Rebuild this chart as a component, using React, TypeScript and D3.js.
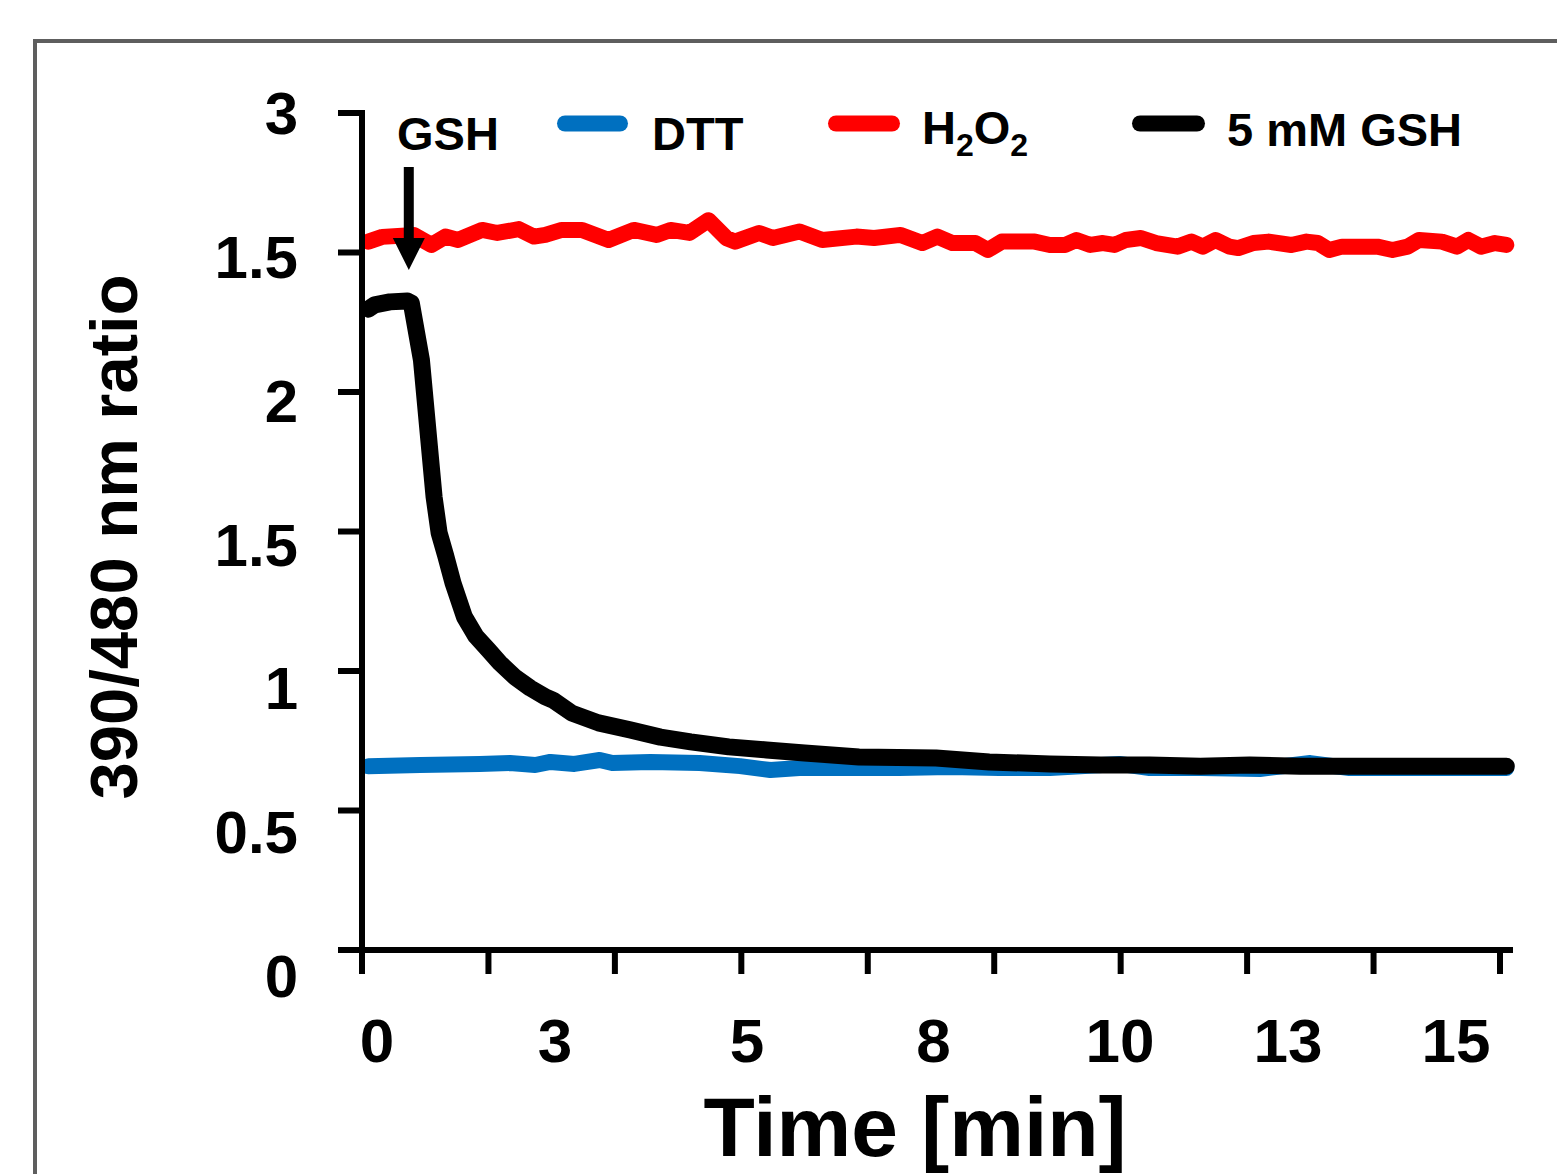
import React from "react";
import * as d3 from "d3";

// time in seconds, values are 390/480 nm ratio on plotted scale
const DTT_T = [5, 46, 93, 117, 137, 149, 168, 188, 198, 228, 267, 299, 323, 346, 386, 425, 465, 504, 544, 599, 623, 663, 710, 750, 781, 821, 860, 905];
const DTT_V = [0.659, 0.663, 0.667, 0.670, 0.663, 0.674, 0.667, 0.681, 0.670, 0.674, 0.670, 0.659, 0.645, 0.652, 0.652, 0.652, 0.656, 0.652, 0.652, 0.667, 0.652, 0.652, 0.649, 0.670, 0.652, 0.652, 0.652, 0.652];

const H2O2_T = [5, 16, 41, 55, 66, 76, 95, 107, 124, 136, 145, 158, 174, 195, 215, 233, 244, 259, 274, 288, 295, 314, 325, 346, 364, 391, 405, 426, 443, 455, 467, 485, 495, 506, 532, 544, 556, 565, 576, 586, 595, 604, 616, 628, 645, 656, 665, 675, 686, 693, 705, 717, 735, 747, 756, 765, 775, 803, 815, 827, 836, 854, 866, 875, 885, 896, 905];
const H2O2_V = [2.539, 2.556, 2.563, 2.527, 2.557, 2.545, 2.581, 2.570, 2.584, 2.557, 2.563, 2.581, 2.581, 2.545, 2.581, 2.563, 2.581, 2.570, 2.616, 2.552, 2.539, 2.570, 2.552, 2.575, 2.545, 2.557, 2.552, 2.563, 2.534, 2.557, 2.534, 2.534, 2.509, 2.539, 2.539, 2.527, 2.527, 2.545, 2.527, 2.534, 2.527, 2.545, 2.552, 2.534, 2.521, 2.539, 2.521, 2.545, 2.521, 2.516, 2.534, 2.539, 2.527, 2.539, 2.534, 2.509, 2.521, 2.521, 2.509, 2.521, 2.545, 2.539, 2.521, 2.545, 2.521, 2.534, 2.527];

const GSH_T = [5, 10, 22, 36, 39, 47, 57, 61, 66, 72, 81, 90, 100, 109, 121, 133, 145, 151, 166, 187, 212, 236, 260, 290, 320, 350, 393, 454, 496, 544, 584, 623, 663, 702, 742, 781, 821, 860, 905];
const GSH_V = [2.297, 2.312, 2.323, 2.326, 2.319, 2.115, 1.624, 1.495, 1.416, 1.315, 1.194, 1.125, 1.075, 1.029, 0.978, 0.939, 0.907, 0.896, 0.849, 0.814, 0.789, 0.763, 0.746, 0.728, 0.717, 0.706, 0.692, 0.688, 0.674, 0.667, 0.663, 0.663, 0.659, 0.663, 0.659, 0.659, 0.659, 0.659, 0.659];

const TIME_TICKS = [0, 100, 200, 300, 400, 500, 600, 700, 800, 900];
const Y_TICKS = [0, 0.5, 1, 1.5, 2, 2.5, 3];
const Y_TICK_LABELS = ["0", "0.5", "1", "1.5", "2", "1.5", "3"];
const X_LABEL_MINUTES = [0, 2.5, 5, 7.5, 10, 12.5, 15];
const X_TICK_LABELS = ["0", "3", "5", "8", "10", "13", "15"];
const ARROW_T = 37;

const SERIES = [
  { name: "DTT", t: DTT_T, v: DTT_V, color: "#0070C0", width: 16 },
  { name: "H2O2", t: H2O2_T, v: H2O2_V, color: "#FF0000", width: 16 },
  { name: "5 mM GSH", t: GSH_T, v: GSH_V, color: "#000000", width: 17 },
];

const FONT = "'Liberation Sans', Arial, Helvetica, sans-serif";

export default function App() {
  const W = 1557;
  const H = 1174;
  const x = d3.scaleLinear().domain([0, 900]).range([362, 1500]);
  const y = d3.scaleLinear().domain([0, 3]).range([950, 113]);
  const yLab = d3.scaleLinear().domain([0, 3]).range([976, 113]);
  const xLab = d3.scaleLinear().domain([0, 2.5, 5, 10, 15]).range([377, 555, 747, 1120, 1456]);
  const line = d3
    .line<[number, number]>()
    .x((d) => x(d[0]))
    .y((d) => y(d[1]));

  const axisX0 = x(0);
  const axisY0 = y(0);
  const ax = "#000";

  const arrowX = x(ARROW_T);

  return (
    <svg
      width={W}
      height={H}
      style={{ position: "absolute", left: 0, top: 0, background: "#fff" }}
      fontFamily={FONT}
      fontWeight="bold"
    >
      <rect x={0} y={0} width={W} height={H} fill="#fff" />
      <rect x={35} y={41} width={1600} height={1300} fill="none" stroke="#5e5e5e" strokeWidth={4} />

      {/* series */}
      {SERIES.map((s) => (
        <path
          key={s.name}
          d={line(s.t.map((t, i) => [t, s.v[i]] as [number, number])) || ""}
          fill="none"
          stroke={s.color}
          strokeWidth={s.width}
          strokeLinejoin="round"
          strokeLinecap="round"
        />
      ))}

      {/* y axis */}
      <line x1={axisX0} x2={axisX0} y1={y(3) - 3} y2={axisY0 + 24} stroke={ax} strokeWidth={6} />
      {Y_TICKS.map((v) => (
        <line key={"yt" + v} x1={axisX0 - 24} x2={axisX0} y1={y(v)} y2={y(v)} stroke={ax} strokeWidth={6} />
      ))}
      {Y_TICKS.map((v, i) => (
        <text key={"yl" + v} x={298} y={yLab(v) + 21} textAnchor="end" fontSize={60} fill="#000">
          {Y_TICK_LABELS[i]}
        </text>
      ))}

      {/* x axis */}
      <line x1={axisX0 - 24} x2={1513} y1={axisY0} y2={axisY0} stroke={ax} strokeWidth={6} />
      {TIME_TICKS.map((t) => (
        <line key={"xt" + t} x1={x(t)} x2={x(t)} y1={axisY0} y2={axisY0 + 24} stroke={ax} strokeWidth={6} />
      ))}
      {X_LABEL_MINUTES.map((m, i) => (
        <text key={"xl" + m} x={xLab(m)} y={1062} textAnchor="middle" fontSize={62} fill="#000">
          {X_TICK_LABELS[i]}
        </text>
      ))}

      {/* axis titles */}
      <text transform="translate(137,537) rotate(-90)" textAnchor="middle" fontSize={67} fill="#000">
        390/480 nm ratio
      </text>
      <text x={915} y={1156} textAnchor="middle" fontSize={84} fill="#000">
        Time [min]
      </text>

      {/* GSH annotation arrow */}
      <text x={397} y={150} fontSize={47} fill="#000">GSH</text>
      <line x1={arrowX} x2={arrowX} y1={167} y2={242} stroke="#000" strokeWidth={10} />
      <polygon points={`${arrowX - 16},238 ${arrowX + 16},238 ${arrowX},270`} fill="#000" />

      {/* legend */}
      <line x1={565} x2={620} y1={123.5} y2={123.5} stroke="#0070C0" strokeWidth={16} strokeLinecap="round" />
      <text x={652} y={150} fontSize={47} fill="#000">DTT</text>

      <line x1={836} x2={892} y1={123.5} y2={123.5} stroke="#FF0000" strokeWidth={16} strokeLinecap="round" />
      <text x={922} y={144} fontSize={47} fill="#000">
        H<tspan fontSize={32} dy={12}>2</tspan>
        <tspan dy={-12}>O</tspan>
        <tspan fontSize={32} dy={12}>2</tspan>
      </text>

      <line x1={1140} x2={1197} y1={123.5} y2={123.5} stroke="#000" strokeWidth={16} strokeLinecap="round" />
      <text x={1227} y={146} fontSize={47} fill="#000">5 mM GSH</text>
    </svg>
  );
}
